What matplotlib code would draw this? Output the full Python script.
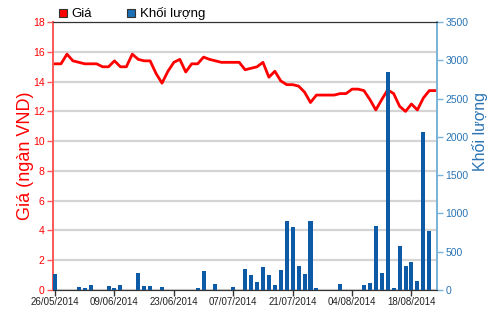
import matplotlib.pyplot as plt
from matplotlib.lines import Line2D
import numpy as np
import pandas as pd

plt.rcParams['font.family'] = ['Liberation Sans', 'DejaVu Sans']

# trading days 26/05/2014 - 22/08/2014
days = pd.bdate_range('2014-05-26', '2014-08-22')
day_labels = [d.strftime('%d/%m/%Y') for d in days]

price = [15.2, 15.2, 15.85, 15.4, 15.3, 15.2, 15.2, 15.2, 15.0, 15.0,
         15.4, 15.0, 15.0, 15.85, 15.5, 15.4, 15.4, 14.55, 13.9, 14.7,
         15.3, 15.5, 14.65, 15.2, 15.2, 15.65, 15.5, 15.4, 15.3, 15.3,
         15.3, 15.3, 14.8, 14.9, 15.0, 15.3, 14.3, 14.7, 14.05, 13.8,
         13.8, 13.7, 13.3, 12.6, 13.1, 13.1, 13.1, 13.1, 13.2, 13.2,
         13.5, 13.5, 13.4, 12.8, 12.1, 12.8, 13.45, 13.2, 12.35, 12.0,
         12.5, 12.1, 12.9, 13.4, 13.4]

volume = [205, 0, 0, 0, 40, 25, 65, 0, 0, 52,
          25, 65, 0, 0, 218, 52, 52, 0, 40, 0,
          0, 0, 0, 0, 25, 244, 0, 74, 0, 0,
          40, 0, 274, 190, 108, 300, 195, 65, 261, 900,
          818, 315, 215, 900, 25, 0, 0, 0, 72, 0,
          0, 0, 65, 95, 835, 218, 2850, 25, 580, 318,
          372, 120, 2060, 765, 0]

tick_labels = ['26/05/2014', '09/06/2014', '23/06/2014', '07/07/2014',
               '21/07/2014', '04/08/2014', '18/08/2014']

red = '#ff0000'
red_axis = '#ff5a5a'
blue = '#0d5aa7'
blue_axis = '#7ab4da'
blue_text = '#2a74b4'

x = np.arange(len(days))

fig = plt.figure(figsize=(5, 3.12), dpi=100)
ax = fig.add_axes([0.106, 0.0705, 0.768, 0.8585])
ax2 = ax.twinx()

ax.plot(x, price, color=red, lw=2.0, zorder=3)
ax2.bar(x, volume, width=0.68, color=blue, zorder=3)

ax.set_xlim(-0.35, 64.3)
ax.set_ylim(0, 18)
ax.set_yticks(np.arange(0, 19, 2))
ax2.set_ylim(0, 3500)
ax2.set_yticks(np.arange(0, 3501, 500))

ax.grid(axis='y', color='#d4d4d4', lw=1.6)
ax.set_axisbelow(True)

pos = [day_labels.index(t) for t in tick_labels]
ax.set_xticks(pos)
ax.set_xticklabels(tick_labels, fontsize=7, color='#222222')
ax.tick_params(axis='x', length=4, width=1, color='#333333', pad=1)

ax.tick_params(axis='y', colors=red, labelsize=7.5, length=4, width=1, pad=2)
ax.tick_params(axis='y', color=red_axis)
ax2.tick_params(axis='y', colors=blue_text, labelsize=7.5, length=4, width=1, pad=2)
ax2.tick_params(axis='y', color=blue_axis)

for a in (ax, ax2):
    a.spines['left'].set_color(red_axis)
    a.spines['left'].set_linewidth(1.3)
    a.spines['right'].set_color(blue_axis)
    a.spines['right'].set_linewidth(1.3)
    a.spines['top'].set_color('#333333')
    a.spines['bottom'].set_color('#333333')

ax.set_ylabel('Giá (ngàn VND)', color=red, fontsize=13)
ax.yaxis.set_label_coords(-0.05, 0.5)
ax2.set_ylabel('Khối lượng', color=blue_text, fontsize=11.5)
ax2.yaxis.set_label_coords(1.09, 0.59)

handles = [Line2D([], [], ls='none', marker='s', markersize=6,
                  markerfacecolor=red, markeredgecolor='#333333', markeredgewidth=0.8),
           Line2D([], [], ls='none', marker='s', markersize=6,
                  markerfacecolor='#1a6fb5', markeredgecolor='#333333', markeredgewidth=0.8)]
fig.legend(handles, ['Giá', 'Khối lượng'], loc='upper left',
           bbox_to_anchor=(0.086, 1.015), ncol=2, frameon=False,
           fontsize=9.5, handletextpad=0.05, columnspacing=2.4, handlelength=1.2)

fig.savefig('out.png', dpi=100)
